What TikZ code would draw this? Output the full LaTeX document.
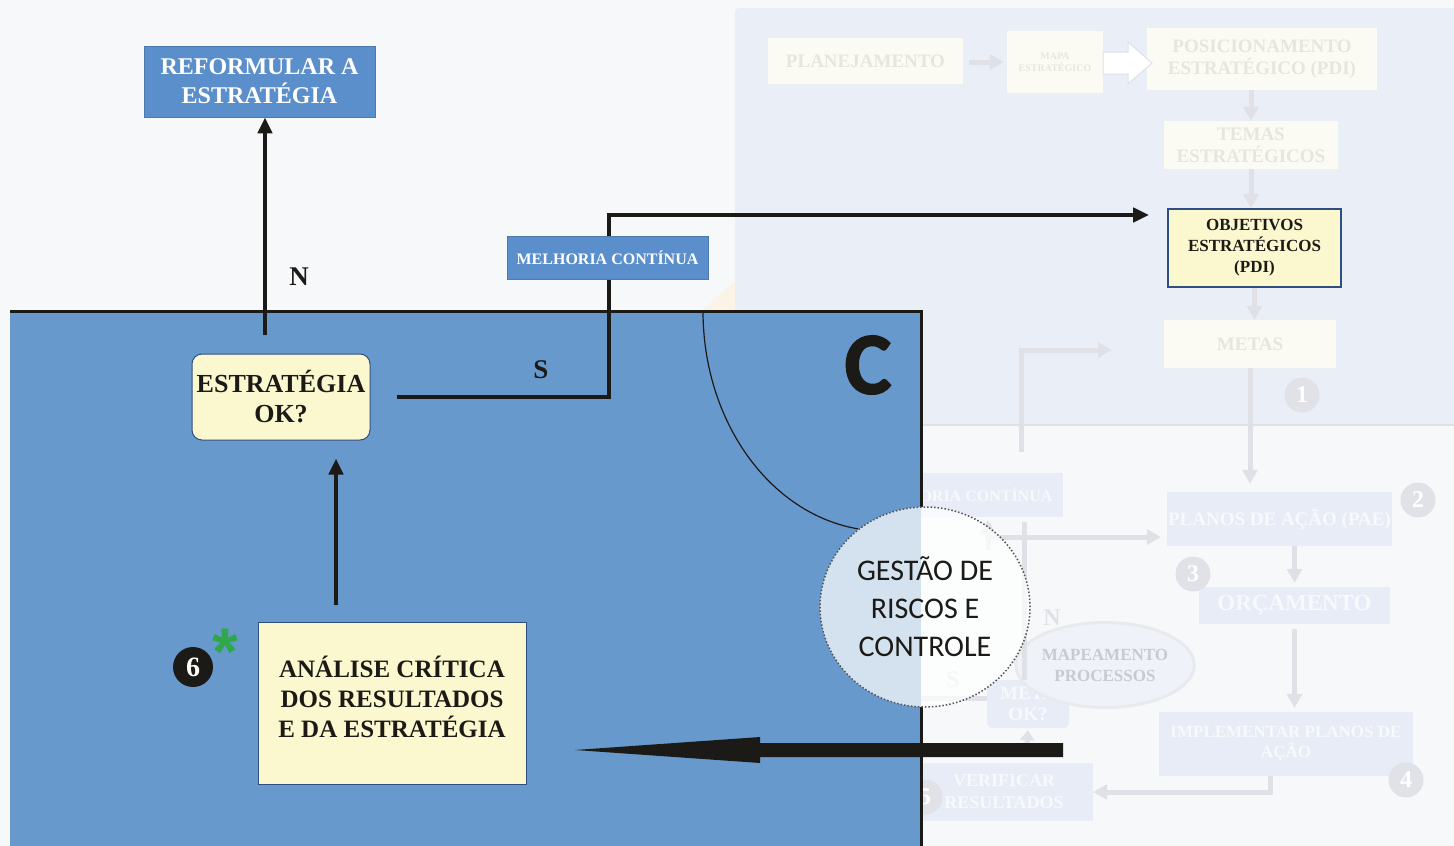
\documentclass[tikz,border=0pt]{standalone}
\usepackage{fontspec}
\setmainfont{Liberation Serif}
\newfontfamily\gestfont{Carlito}
\newfontfamily\heavy[BoldFeatures={FakeBold=2}]{Carlito}
\newfontfamily\sansb{Liberation Sans}
\usetikzlibrary{arrows.meta,shapes.geometric}
\definecolor{bg}{HTML}{F6F8F9}
\definecolor{lav}{HTML}{EAEEF7}
\definecolor{panel}{HTML}{6899CC}
\definecolor{boxblue}{HTML}{5B8FCB}
\definecolor{cream}{HTML}{FBF7CF}
\definecolor{edgeblue}{HTML}{2F4F80}
\definecolor{ink}{HTML}{1C1A17}
\definecolor{fadeline}{HTML}{DFE1E6}
\definecolor{fadebox}{HTML}{FBFBF4}
\definecolor{fadetxt}{HTML}{E6E6DE}
\definecolor{fadebox2}{HTML}{E8ECF6}
\definecolor{fadetxt2}{HTML}{F8F9FC}
\definecolor{fadenum}{HTML}{E0E2E7}
\definecolor{green6}{HTML}{2EA84A}
\definecolor{beige}{HTML}{FAF3E6}
\newcommand{\fs}[1]{\fontsize{#1}{#1}\selectfont}
\begin{document}
\begin{tikzpicture}[x=1pt,y=-1pt,
  bluebox/.style={fill=boxblue, draw=boxblue!85!black, line width=0.6pt, text=white, inner sep=0pt, align=center},
  creambox/.style={fill=cream, draw=edgeblue, line width=1pt, text=ink, inner sep=0pt, align=center},
  conn/.style={draw=ink, line width=4pt, -{Triangle[length=16pt,width=14pt]}},
  fadeA/.style={fill=fadebox, draw=none, inner sep=0pt, align=center, text=fadetxt},
  fadeB/.style={fill=fadebox2, draw=none, inner sep=0pt, align=center, text=fadetxt2},
  fadeln/.style={draw=fadeline, line width=5pt},
  fadearr/.style={fadeln, -{Triangle[length=14pt,width=15pt]}},
  numc/.style={circle, fill=fadenum, minimum size=35pt, inner sep=0pt, text=white, font=\bfseries\fs{24}},
  lbl/.style={text=ink, inner sep=0pt, font=\bfseries\fs{27}}
]
\useasboundingbox (0,0) rectangle (1454,846);
\fill[bg] (0,0) rectangle (1454,846);
\fill[lav, rounded corners=4pt] (735,8) rectangle (1470,425);
\draw[fadeline, line width=2pt] (735,425) -- (1454,425);

% ---- faded upper diagram ----
\node[fadeA, minimum width=195, minimum height=46, font=\bfseries\fs{19}] (plan) at (865.5,61) {PLANEJAMENTO};
\node[fadeA, minimum width=96, minimum height=62, font=\bfseries\fs{10}] (mapa) at (1055,62) {MAPA\\[2pt]ESTRATÉGICO};
\node[fadeA, minimum width=230, minimum height=62, font=\bfseries\fs{19}] (posi) at (1262,59) {POSICIONAMENTO\\[3pt]ESTRATÉGICO (PDI)};
\node[fadeA, minimum width=174, minimum height=48, font=\bfseries\fs{19}] (temas) at (1251,145) {TEMAS\\[3pt]ESTRATÉGICOS};
\node[fadeA, minimum width=172, minimum height=48, font=\bfseries\fs{19}] (metas) at (1250,344) {METAS};
\node[numc] (n1) at (1302,395) {1};
\fill[white, draw=fadeline, line width=1pt] (1103,52) -- (1128,52) -- (1128,42) -- (1152,63) -- (1128,84) -- (1128,74) -- (1103,74) -- cycle;
\draw[fadearr, shorten <=6pt, shorten >=3pt] (plan.east |- mapa.west) -- (mapa.west);

% ---- faded lower diagram ----
\node[fadeB, minimum width=203, minimum height=44, font=\bfseries\fs{16}] (melf) at (961.5,495) {MELHORIA CONTÍNUA};
\node[fadeB, minimum width=225, minimum height=54, font=\bfseries\fs{19}] (planos) at (1279.5,519) {PLANOS DE AÇÃO (PAE)};
\node[fadeB, minimum width=191, minimum height=37, font=\bfseries\fs{23}] (orc) at (1294.5,605.5) {ORÇAMENTO};
\node[fadeB, minimum width=254, minimum height=64, font=\bfseries\fs{17}] (impl) at (1286,744) {IMPLEMENTAR PLANOS DE\\[3pt]AÇÃO};
\node[fadeB, minimum width=178, minimum height=58, font=\bfseries\fs{18}] (verif) at (1004,792) {VERIFICAR\\[4pt]RESULTADOS};
\node[fadeB, rounded corners=6pt, minimum width=82, minimum height=48, font=\bfseries\fs{19}] (meta) at (1028,704) {META\\[2pt]OK?};
\node[ellipse, fill=fadebox2!70!white, draw=fadeline!70!white, line width=3pt, minimum width=146, minimum height=85, inner sep=0pt, align=center, text=fadeline!90!black, font=\bfseries\fs{17}] (mapeam) at (1105,665) {MAPEAMENTO\\[4pt]PROCESSOS};
\node[numc] (n2) at (1418,500) {2};
\node[numc] (n3) at (1193,574) {3};
\node[numc] (n4) at (1406,780) {4};
\node[numc] (n5) at (925,797) {5};
\node[text=fadeline, inner sep=0pt, font=\bfseries\fs{24}] (fN) at (1052,618) {N};
\node[text=fadeline, inner sep=0pt, font=\bfseries\fs{24}] (fS) at (953,680) {S};

\node[creambox, line width=1.6pt, minimum width=173, minimum height=78, font=\bfseries\fs{17}] (obj) at (1254.5,248) {OBJETIVOS\\[4pt]ESTRATÉGICOS\\[4pt](PDI)};

\draw[fadearr] (temas.north |- posi.south) -- (temas.north);
\draw[fadearr] (temas.south) -- (temas.south |- obj.north);
\draw[fadearr] (obj.south) -- (obj.south |- metas.north);
\draw[fadearr, shorten >=8pt] (metas.south) -- (metas.south |- planos.north);
\coordinate (lstart) at (1021,452);
\coordinate (lend) at (1112,350);
\draw[fadearr] (lstart) |- (lend);
\draw[fadearr, shorten >=4pt] (orc.north |- planos.south) -- (orc.north);
\draw[fadearr, shorten <=5pt, shorten >=4pt] (orc.south) -- (orc.south |- impl.north);
\coordinate (ib) at (1270,776);
\draw[fadearr] (ib) |- (verif.east);
\coordinate (vtop) at (1024,522);
\coordinate (vbot) at (1024,680);
\draw[fadeln] (vtop) -- (vbot);
\coordinate (hb) at (985,537);
\draw[fadearr, shorten >=6pt] (hb) -- (hb -| planos.west);
\coordinate (ua) at (988,550);
\draw[fadearr, shorten >=3pt] (ua) -- (ua |- melf.south);
\coordinate (sl) at (921,698);
\draw[fadeln] (sl) -- (sl -| meta.west);
\coordinate (ub) at (1027,746);
\draw[fadeln, -{Triangle[length=10pt,width=14pt]}, shorten >=2pt] (ub) -- (meta.south);

% ---- faint beige arc left of panel ----
\begin{scope}
\clip (680,270) rectangle (735,311);
\fill[beige] (883,480) circle[radius=247];
\end{scope}

% ---- blue panel ----
\fill[panel] (10,311) rectangle (921,846);
\draw[ink, line width=3pt] (10,311) -- (921,311) -- (921,507);
\draw[ink, line width=3pt] (921,707) -- (921,846);
\draw[ink, line width=1.2pt] (703,311) arc[start angle=180, end angle=98, x radius=180, y radius=220];

% ---- main nodes ----
\node[bluebox, minimum width=231, minimum height=71, font=\bfseries\fs{24}] (refo) at (259.5,81.5) {REFORMULAR A\\[5pt]ESTRATÉGIA};
\node[creambox, rounded corners=10pt, minimum width=178, minimum height=86, font=\bfseries\fs{26}] (strat) at (281,397) {ESTRATÉGIA\\[4pt]OK?};
\node[creambox, minimum width=268, minimum height=162, font=\bfseries\fs{25}] (anal) at (392,703) {};
\node[text=ink, inner sep=0pt, align=center, font=\bfseries\fs{25}] (analtxt) at (392,697) {ANÁLISE CRÍTICA\\[5pt]DOS RESULTADOS\\[5pt]E DA ESTRATÉGIA};
\node[circle, fill=ink, minimum size=40pt, inner sep=0pt, text=white, font=\bfseries\fs{28}] (six) at (193,667) {6};
\node[text=green6, inner sep=0pt, font=\sansb\bfseries\fs{66}] (ast) at (225,652) {*};
\node[text=ink, inner sep=0pt, font=\heavy\bfseries\fs{88}] (bigC) at (868,365) {C};
\node[lbl] (lblN) at (299,277) {N};
\node[lbl] (lblS) at (541,370) {S};

\coordinate (xN) at (265,0);
\coordinate (turn) at (609,215);
\coordinate (xa) at (336,0);
\draw[conn, shorten <=19pt] (strat.north -| xN) -- (refo.south -| xN);
\draw[draw=ink, line width=4pt, -{Triangle[length=16pt,width=14pt]}, shorten >=18pt] ([xshift=26pt]strat.east) -| (turn) -- (turn -| obj.west);
\draw[conn, shorten <=17pt, shorten >=18pt] (anal.north -| xa) -- (strat.south -| xa);
\node[bluebox, minimum width=201, minimum height=43, font=\bfseries\fs{16}] (melc) at (607.5,257.5) {MELHORIA CONTÍNUA};

% ---- risk circle ----
\node[ellipse, fill=white, fill opacity=0.72, text opacity=1, draw=ink!75, dotted, line width=1.5pt, minimum width=210, minimum height=200, inner sep=0pt, align=center, text=ink, font=\gestfont\fs{30}] (gest) at (925,607) {GESTÃO DE\\[8pt]RISCOS E\\[8pt]CONTROLE};

% ---- thick arrow ----
\fill[ink] (1063,743) -- (760,743) -- (760,737) -- (575,750) -- (760,763) -- (760,757) -- (1063,757) -- cycle;
\end{tikzpicture}
\end{document}
